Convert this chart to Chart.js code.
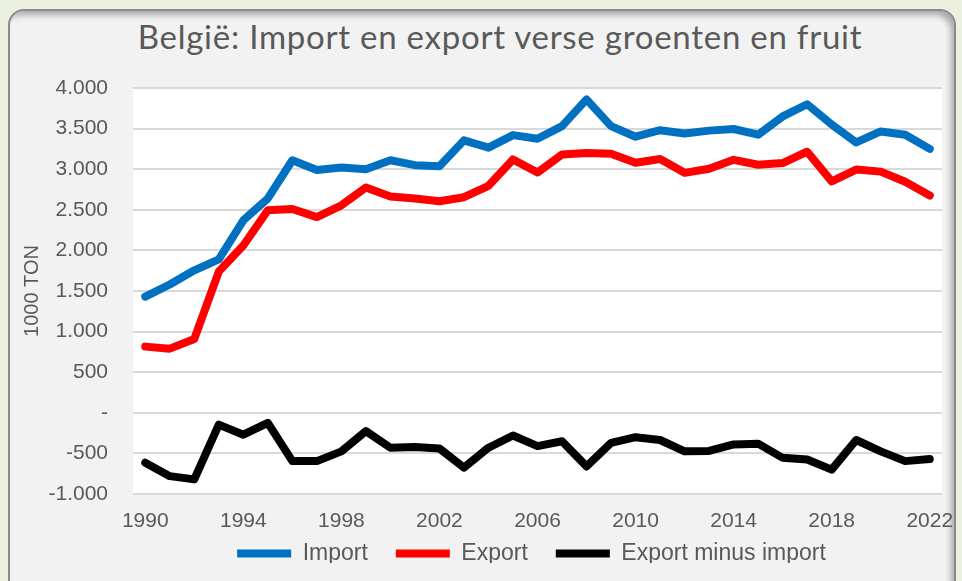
<!DOCTYPE html>
<html lang="nl">
<head>
<meta charset="utf-8">
<title>België: Import en export verse groenten en fruit</title>
<script src="https://cdn.jsdelivr.net/npm/chart.js@4.4.1/dist/chart.umd.min.js"></script>
<style>
  html, body {
    margin: 0;
    padding: 0;
    width: 962px;
    height: 581px;
    overflow: hidden;
    background: #ebf1de;
  }
  .card {
    position: absolute;
    left: 8px;
    top: 9px;
    width: 944px;
    height: 590px;
    border: 2px solid #8a8a8a;
    border-radius: 16px;
    background: #f2f2f2;
    box-shadow: inset -5px 6px 6px -2px rgba(0, 0, 0, 0.3);
  }
  .chart-title {
    position: absolute;
    left: 0;
    top: 20px;
    width: 1000px;
    text-align: center;
    font-family: Lato, "Open Sans", sans-serif;
    font-size: 33px;
    letter-spacing: 0.75px;
    line-height: 1;
    color: #595959;
    white-space: nowrap;
  }
  #chart {
    position: absolute;
    left: 0;
    top: 0;
  }
</style>
</head>
<body>
<div class="card"></div>
<div class="chart-title">België: Import en export verse groenten en fruit</div>
<canvas id="chart" width="962" height="581"></canvas>
<script>
// Values in 1000 ton
const years = [
  '1990', '1991', '1992', '1993', '1994', '1995', '1996', '1997', '1998', '1999',
  '2000', '2001', '2002', '2003', '2004', '2005', '2006', '2007', '2008', '2009',
  '2010', '2011', '2012', '2013', '2014', '2015', '2016', '2017', '2018', '2019',
  '2020', '2021', '2022'
];

const importValues = [
  1430, 1580, 1755, 1890, 2370, 2640, 3110, 2990, 3020, 3000,
  3110, 3050, 3035, 3355, 3265, 3420, 3375, 3530, 3860, 3530,
  3400, 3480, 3440, 3475, 3495, 3425, 3650, 3800, 3550, 3330,
  3465, 3425, 3250
];

const exportValues = [
  815, 790, 910, 1740, 2060, 2495, 2510, 2410, 2555, 2775,
  2665, 2640, 2605, 2655, 2795, 3120, 2960, 3180, 3200, 3190,
  3080, 3125, 2955, 3005, 3115, 3055, 3075, 3215, 2850, 2995,
  2970, 2845, 2675
];

const balanceValues = [
  -615, -780, -820, -145, -270, -125, -595, -595, -475, -225,
  -430, -420, -440, -675, -430, -280, -410, -350, -660, -370,
  -300, -335, -475, -470, -390, -380, -555, -575, -700, -335,
  -475, -595, -570
];

const yTicks = { min: -1000, max: 4000, step: 500 };
const yTitle = '1000 TON';

const textColor = '#595959';
const gridColor = '#d9d9d9';
const axisFont = '"Liberation Sans", Arial, sans-serif';

/**
 * Format a tick value the Dutch way: 4.000, -1.000, and "-" for zero
 */
function formatTon(value) {
  if (value === 0) return '-';
  const sign = value < 0 ? '-' : '';
  const digits = String(Math.abs(value));
  return sign + digits.replace(/\B(?=(\d{3})+(?!\d))/g, '.');
}

// White plot area on the grey card
const plotBackground = {
  id: 'plotBackground',
  beforeDraw(chart) {
    const { ctx, chartArea } = chart;
    ctx.save();
    ctx.fillStyle = '#ffffff';
    ctx.fillRect(chartArea.left, chartArea.top, chartArea.right - chartArea.left, chartArea.bottom - chartArea.top);
    ctx.restore();
  }
};

// Pull the legend up closer to the year labels (Excel style spacing)
const legendOffset = {
  id: 'legendOffset',
  afterLayout(chart) {
    const legend = chart.legend;
    if (!legend) return;
    legend.top -= 18;
    legend.bottom -= 18;
    legend.left -= 6;
    legend.right -= 6;
  }
};

function lineDataset(label, data, color) {
  return {
    label: label,
    data: data,
    borderColor: color,
    backgroundColor: color,
    borderWidth: 8,
    borderCapStyle: 'round',
    borderJoinStyle: 'round',
    pointRadius: 0,
    pointHoverRadius: 0,
    tension: 0,
    fill: false
  };
}

const ctx = document.getElementById('chart').getContext('2d');

new Chart(ctx, {
  type: 'line',
  data: {
    labels: years,
    datasets: [
      lineDataset('Import', importValues, '#0070c0'),
      lineDataset('Export', exportValues, '#ff0000'),
      lineDataset('Export minus import', balanceValues, '#000000')
    ]
  },
  options: {
    responsive: false,
    animation: false,
    layout: {
      padding: { left: 20, right: 20, top: 88, bottom: 0 }
    },
    plugins: {
      title: { display: false },
      tooltip: { enabled: false },
      legend: {
        position: 'bottom',
        fullSize: false,
        maxHeight: 49,
        labels: {
          usePointStyle: true,
          pointStyle: 'line',
          pointStyleWidth: 54,
          padding: 28,
          color: textColor,
          font: { family: axisFont, size: 23 }
        }
      }
    },
    scales: {
      x: {
        offset: true,
        grid: { display: false },
        border: { display: false },
        ticks: {
          color: textColor,
          font: { family: axisFont, size: 21 },
          padding: 7,
          autoSkip: false,
          maxRotation: 0,
          callback: function(value, index) {
            return index % 4 === 0 ? this.getLabelForValue(value) : null;
          }
        },
        afterFit: function(scale) {
          scale.height = 38;
        }
      },
      y: {
        min: yTicks.min,
        max: yTicks.max,
        grid: {
          color: gridColor,
          lineWidth: 2,
          drawTicks: false
        },
        border: { display: false },
        ticks: {
          stepSize: yTicks.step,
          color: textColor,
          padding: 25,
          font: { family: axisFont, size: 21 },
          callback: function(value) {
            return formatTon(value);
          }
        },
        title: {
          display: true,
          text: yTitle,
          color: textColor,
          padding: 0,
          font: { family: axisFont, size: 20 }
        },
        afterFit: function(scale) {
          scale.width = 113;
        }
      }
    }
  },
  plugins: [plotBackground, legendOffset]
});
</script>
</body>
</html>
